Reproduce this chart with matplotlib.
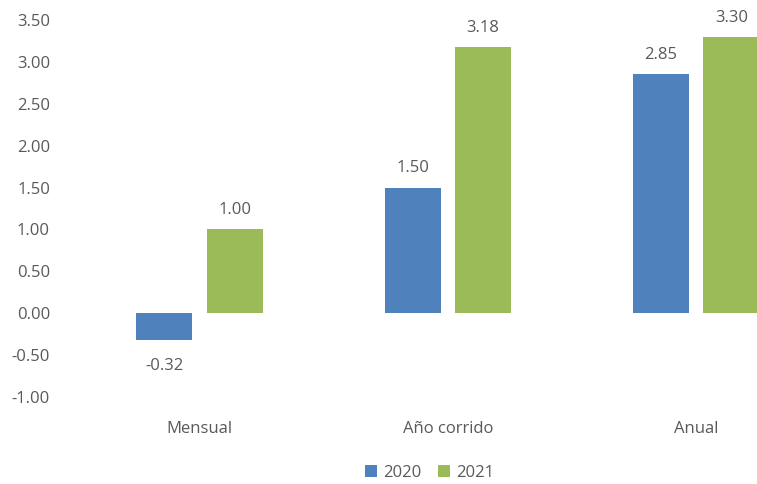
import numpy as np
import matplotlib.pyplot as plt

plt.rcParams['font.family'] = ['Open Sans', 'DejaVu Sans']

categories = ["Mensual", "Año corrido", "Anual"]
years = ["2020", "2021"]
values_2020 = [-0.32, 1.50, 2.85]
values_2021 = [1.00, 3.18, 3.30]
yticks = [-1.0, -0.5, 0.0, 0.5, 1.0, 1.5, 2.0, 2.5, 3.0, 3.5]

blue = "#4F81BD"
green = "#9BBB59"
grey = "#595959"

fig = plt.figure(figsize=(7.57, 4.84), dpi=100)
ax = fig.add_axes([75 / 757, 1 - 397 / 484, 682 / 757, 377 / 484])

x = np.arange(len(categories))
w = 0.225
off = 0.142
b1 = ax.bar(x - off, values_2020, w, color=blue, label=years[0])
b2 = ax.bar(x + off, values_2021, w, color=green, label=years[1])

for bars, vals in ((b1, values_2020), (b2, values_2021)):
    for rect, v in zip(bars, vals):
        cx = rect.get_x() + rect.get_width() / 2
        if v >= 0:
            ax.annotate(f"{v:.2f}", (cx, v), xytext=(0, 8), textcoords="offset points",
                        ha="center", va="bottom", fontsize=12, color=grey)
        else:
            ax.annotate(f"{v:.2f}", (cx, v), xytext=(0, -13), textcoords="offset points",
                        ha="center", va="top", fontsize=12, color=grey)

ax.set_xlim(-0.502, 2.245)
ax.set_ylim(-1.0, 3.5)
ax.set_yticks(yticks)
ax.set_yticklabels([f"{t:.2f}" for t in yticks])
ax.set_xticks(x)
ax.set_xticklabels(categories)
ax.tick_params(axis="both", length=0, labelsize=12, colors=grey)
ax.tick_params(axis="x", pad=17)
ax.tick_params(axis="y", pad=18)
for s in ax.spines.values():
    s.set_visible(False)

ax.legend(loc="upper center", bbox_to_anchor=(0.52, -0.14), ncol=2, frameon=False,
          fontsize=12, labelcolor=grey, handlelength=0.7, handleheight=0.7,
          columnspacing=1.0, handletextpad=0.4)

fig.savefig("out.png", dpi=100)
